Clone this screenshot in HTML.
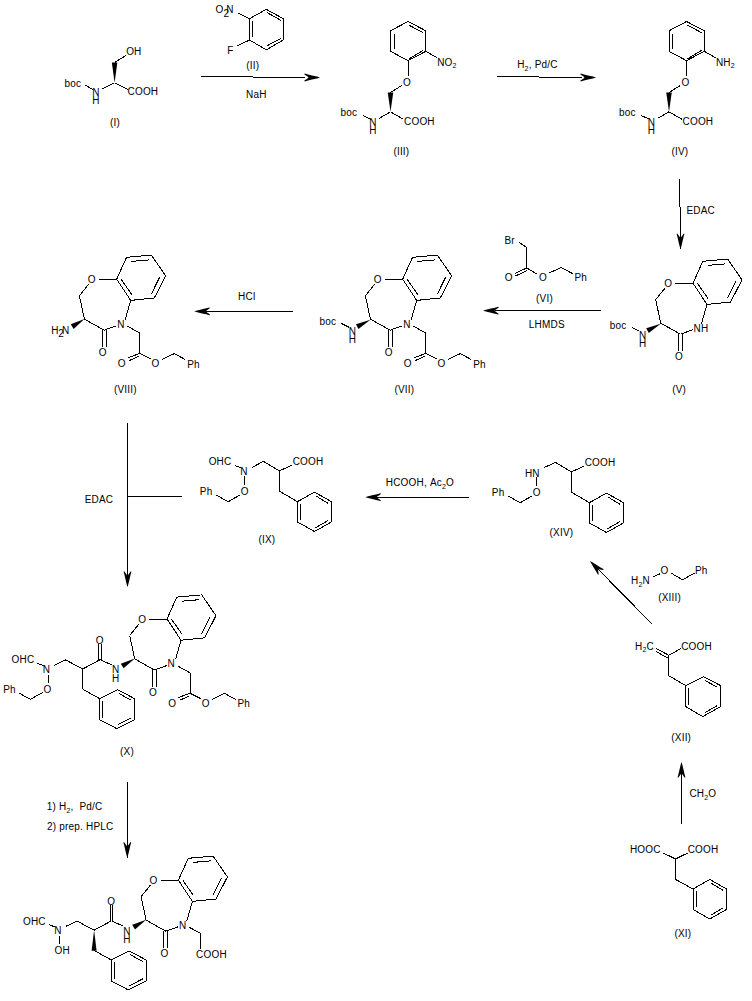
<!DOCTYPE html>
<html><head><meta charset="utf-8"><style>
html,body{margin:0;padding:0;background:#fff;width:752px;height:1001px;overflow:hidden}
svg{display:block}
line,.s{stroke:#000;stroke-width:1;fill:none;shape-rendering:crispEdges}
.f{fill:#000;stroke:none}
text{font-family:"Liberation Sans",sans-serif;font-size:10.0px;fill:#000;letter-spacing:0.2px}
</style></head><body>
<svg width="752" height="1001" viewBox="0 0 752 1001">
<text transform="translate(126.13,55.41) scale(1,1.15)"><tspan>OH</tspan></text>
<text transform="translate(64.56,86.61) scale(1,1.15)" letter-spacing="0.6"><tspan>boc</tspan></text>
<text transform="translate(92.18,95.91) scale(1,1.15)"><tspan>N</tspan></text>
<text transform="translate(92.18,103.51) scale(1,1.15)"><tspan>H</tspan></text>
<text transform="translate(127.49,94.91) scale(1,1.15)"><tspan>COOH</tspan></text>
<line x1="85.1" y1="85" x2="93" y2="89.8"/>
<line x1="101.9" y1="89" x2="114.6" y2="82.7"/>
<line x1="114.6" y1="82.7" x2="128.2" y2="89.8"/>
<polygon class="f" points="114.6,82.7 117.35,62.5 111.85,62.5"/>
<line x1="114.6" y1="62.5" x2="125.8" y2="55.5"/>
<text transform="translate(109.98,126.41) scale(1,1.15)"><tspan>(I)</tspan></text>
<text transform="translate(215.43,12.91) scale(1,1.15)"><tspan>O</tspan></text>
<text transform="translate(226.18,12.91) scale(1,1.15)"><tspan>N</tspan></text>
<text transform="translate(223.6,16.8) scale(1,1.15)" font-size="7">2</text>
<polygon class="s" points="266.3,9.3 283.1,18.6 283.1,40 266.3,49.9 249.6,40 249.6,18.6"/>
<line x1="252.4" y1="21.4" x2="252.4" y2="37.2"/>
<line x1="267.3" y1="12.7" x2="281.2" y2="20.5"/>
<line x1="267.3" y1="45.6" x2="281.2" y2="38.2"/>
<line x1="238" y1="13" x2="249.6" y2="18.6"/>
<line x1="237.5" y1="45.6" x2="249.6" y2="40"/>
<text transform="translate(227.18,54.11) scale(1,1.15)"><tspan>F</tspan></text>
<text transform="translate(246.18,69.31) scale(1,1.15)"><tspan>(II)</tspan></text>
<line x1="201.2" y1="76.5" x2="253.3" y2="76.5"/>
<line x1="253.3" y1="77.5" x2="305" y2="77.5"/>
<polygon class="f" points="320,77.5 317,78.4 312,79.6 308,80.5 304.8,81.4 304.2,80.8 308.2,77.9 308.2,77.1 304.2,74.2 304.8,73.6 308,74.5 312,75.4 317,76.6"/>
<text transform="translate(245.98,98.21) scale(1,1.15)"><tspan>NaH</tspan></text>
<polygon class="s" points="408,21.5 425.9,30.8 425.9,51.3 408,60.6 390.5,51.3 390.5,30.8"/>
<line x1="394.2" y1="33.6" x2="394.2" y2="49.4"/>
<line x1="409.1" y1="25.2" x2="423.1" y2="32.7"/>
<line x1="409.1" y1="58.8" x2="423.1" y2="50.4"/>
<line x1="425.9" y1="51.3" x2="437" y2="57.8"/>
<line x1="408" y1="60.6" x2="408" y2="76"/>
<text transform="translate(403.03,85.91) scale(1,1.15)"><tspan>O</tspan></text>
<line x1="401.7" y1="85.5" x2="390.5" y2="92.5"/>
<polygon class="f" points="390.5,111.8 393.25,92.5 387.75,92.5"/>
<text transform="translate(340.56,116.41) scale(1,1.15)" letter-spacing="0.6"><tspan>boc</tspan></text>
<line x1="362.6" y1="115.5" x2="371" y2="119.3"/>
<text transform="translate(369.18,126.21) scale(1,1.15)"><tspan>N</tspan></text>
<text transform="translate(369.18,134.21) scale(1,1.15)"><tspan>H</tspan></text>
<line x1="379.3" y1="118.3" x2="390.5" y2="111.8"/>
<line x1="390.5" y1="111.8" x2="403.5" y2="119.3"/>
<text transform="translate(403.99,124.91) scale(1,1.15)"><tspan>COOH</tspan></text>
<text transform="translate(437.18,65.71) scale(1,1.15)"><tspan>NO</tspan><tspan font-size="7" dy="2.4">2</tspan></text>
<text transform="translate(393.38,154.91) scale(1,1.15)"><tspan>(III)</tspan></text>
<line x1="497" y1="76.5" x2="539" y2="76.5"/>
<line x1="539" y1="77.5" x2="582" y2="77.5"/>
<polygon class="f" points="596,77.5 593,78.4 588,79.6 584,80.5 580.8,81.4 580.2,80.8 584.2,77.9 584.2,77.1 580.2,74.2 580.8,73.6 584,74.5 588,75.4 593,76.6"/>
<text transform="translate(517.18,68.41) scale(1,1.15)"><tspan>H</tspan><tspan font-size="7" dy="2.4">2</tspan><tspan dy="-2.4">,&#160;Pd/C</tspan></text>
<polygon class="s" points="686.5,21.5 704.4,30.8 704.4,51.3 686.5,60.6 669,51.3 669,30.8"/>
<line x1="672.7" y1="33.6" x2="672.7" y2="49.4"/>
<line x1="687.6" y1="25.2" x2="701.6" y2="32.7"/>
<line x1="687.6" y1="58.8" x2="701.6" y2="50.4"/>
<line x1="704.4" y1="51.3" x2="715.5" y2="57.8"/>
<line x1="686.5" y1="60.6" x2="686.5" y2="76"/>
<text transform="translate(681.53,85.91) scale(1,1.15)"><tspan>O</tspan></text>
<line x1="680.2" y1="85.5" x2="669" y2="92.5"/>
<polygon class="f" points="669,111.8 671.75,92.5 666.25,92.5"/>
<text transform="translate(619.06,116.41) scale(1,1.15)" letter-spacing="0.6"><tspan>boc</tspan></text>
<line x1="641.1" y1="115.5" x2="649.5" y2="119.3"/>
<text transform="translate(647.68,126.21) scale(1,1.15)"><tspan>N</tspan></text>
<text transform="translate(647.68,134.21) scale(1,1.15)"><tspan>H</tspan></text>
<line x1="657.8" y1="118.3" x2="669" y2="111.8"/>
<line x1="669" y1="111.8" x2="682" y2="119.3"/>
<text transform="translate(682.49,124.91) scale(1,1.15)"><tspan>COOH</tspan></text>
<text transform="translate(715.88,65.71) scale(1,1.15)"><tspan>NH</tspan><tspan font-size="7" dy="2.4">2</tspan></text>
<text transform="translate(671.38,155.11) scale(1,1.15)"><tspan>(IV)</tspan></text>
<line x1="679.5" y1="179.2" x2="679.5" y2="207"/>
<line x1="680.5" y1="207" x2="680.5" y2="249.3"/>
<polygon class="f" points="680.5,249.3 679.6,246.3 678.4,241.3 677.5,237.3 676.6,234.1 677.2,233.5 680.1,237.5 680.9,237.5 683.8,233.5 684.4,234.1 683.5,237.3 682.6,241.3 681.4,246.3"/>
<text transform="translate(686.48,213.51) scale(1,1.15)"><tspan>EDAC</tspan></text>
<polygon class="s" points="702.8,261.3 727.7,259.1 742,279.9 730.6,302 707,304.4 693,283.2"/>
<line x1="707.5" y1="265.4" x2="725.2" y2="263.9"/>
<line x1="735.9" y1="281.2" x2="727.7" y2="298"/>
<line x1="697.4" y1="283.3" x2="708.1" y2="298.5"/>
<text transform="translate(664.13,287.21) scale(1,1.15)"><tspan>O</tspan></text>
<line x1="675.3" y1="283.3" x2="693" y2="283.2"/>
<line x1="665.2" y1="287.9" x2="655.7" y2="299.7"/>
<line x1="655.7" y1="299.7" x2="660.7" y2="323.1"/>
<line x1="660.7" y1="323.1" x2="680.4" y2="334.2"/>
<line x1="678.5" y1="334.2" x2="678.5" y2="350.8"/>
<line x1="682.3" y1="334.2" x2="682.3" y2="350.8"/>
<text transform="translate(675.03,359.81) scale(1,1.15)"><tspan>O</tspan></text>
<line x1="680.4" y1="334.2" x2="692.7" y2="329.8"/>
<text transform="translate(693.48,331.61) scale(1,1.15)"><tspan>NH</tspan></text>
<line x1="701.5" y1="323.7" x2="707" y2="304.4"/>
<polygon class="f" points="660.7,323.7 646.23,328.16 648.77,333.04"/>
<text transform="translate(639.08,338.51) scale(1,1.15)"><tspan>N</tspan></text>
<text transform="translate(639.08,347.41) scale(1,1.15)"><tspan>H</tspan></text>
<text transform="translate(609.86,328.91) scale(1,1.15)" letter-spacing="0.6"><tspan>boc</tspan></text>
<line x1="631.7" y1="327.5" x2="639.3" y2="331.3"/>
<text transform="translate(672.18,392.71) scale(1,1.15)"><tspan>(V)</tspan></text>
<text transform="translate(504.38,244.31) scale(1,1.15)"><tspan>Br</tspan></text>
<line x1="518.8" y1="242.3" x2="526.8" y2="247.6"/>
<line x1="526.8" y1="247.6" x2="526.8" y2="268"/>
<line x1="526.8" y1="268" x2="514.7" y2="273.5"/>
<line x1="526.8" y1="270.5" x2="515.6" y2="276"/>
<text transform="translate(504.73,280.91) scale(1,1.15)"><tspan>O</tspan></text>
<line x1="526.8" y1="268" x2="537" y2="274"/>
<text transform="translate(538.93,280.91) scale(1,1.15)"><tspan>O</tspan></text>
<line x1="549.1" y1="273" x2="561.2" y2="267.5"/>
<line x1="561.2" y1="267.5" x2="573.3" y2="274"/>
<text transform="translate(574.38,280.91) scale(1,1.15)"><tspan>Ph</tspan></text>
<text transform="translate(536.08,301.91) scale(1,1.15)"><tspan>(VI)</tspan></text>
<line x1="601.3" y1="310.7" x2="495" y2="310.7"/>
<polygon class="f" points="483,310.7 486,309.8 491,308.6 495,307.7 498.2,306.8 498.8,307.4 494.8,310.3 494.8,311.1 498.8,314 498.2,314.6 495,313.7 491,312.8 486,311.6"/>
<text transform="translate(528.78,328.41) scale(1,1.15)"><tspan>LHMDS</tspan></text>
<polygon class="s" points="412.5,257.3 437.4,255.1 451.7,275.9 440.3,298 416.7,300.4 402.7,279.2"/>
<line x1="417.2" y1="261.4" x2="434.9" y2="259.9"/>
<line x1="445.6" y1="277.2" x2="437.4" y2="294"/>
<line x1="407.1" y1="279.3" x2="417.8" y2="294.5"/>
<text transform="translate(373.83,283.21) scale(1,1.15)"><tspan>O</tspan></text>
<line x1="385" y1="279.3" x2="402.7" y2="279.2"/>
<line x1="374.9" y1="283.9" x2="365.4" y2="295.7"/>
<line x1="365.4" y1="295.7" x2="370.4" y2="319.1"/>
<line x1="370.4" y1="319.1" x2="390.1" y2="330.2"/>
<line x1="388.2" y1="330.2" x2="388.2" y2="346.8"/>
<line x1="392" y1="330.2" x2="392" y2="346.8"/>
<text transform="translate(384.73,355.81) scale(1,1.15)"><tspan>O</tspan></text>
<line x1="390.1" y1="330.2" x2="402.4" y2="325.8"/>
<text transform="translate(403.18,327.61) scale(1,1.15)"><tspan>N</tspan></text>
<line x1="411.2" y1="319.7" x2="416.7" y2="300.4"/>
<line x1="413.1" y1="326" x2="425.7" y2="333"/>
<line x1="425.7" y1="333" x2="425.7" y2="353.5"/>
<line x1="425.7" y1="353.5" x2="414" y2="357.7"/>
<line x1="424.8" y1="356.3" x2="415.4" y2="360.5"/>
<text transform="translate(403.83,367.01) scale(1,1.15)"><tspan>O</tspan></text>
<line x1="425.7" y1="353.5" x2="436.9" y2="359.1"/>
<text transform="translate(437.53,367.01) scale(1,1.15)"><tspan>O</tspan></text>
<line x1="448.1" y1="359.6" x2="460.2" y2="353.6"/>
<line x1="460.2" y1="353.6" x2="471.4" y2="359.6"/>
<text transform="translate(473.18,367.51) scale(1,1.15)"><tspan>Ph</tspan></text>
<polygon class="f" points="370.4,319.7 355.93,324.16 358.47,329.04"/>
<text transform="translate(348.78,334.51) scale(1,1.15)"><tspan>N</tspan></text>
<text transform="translate(348.78,343.41) scale(1,1.15)"><tspan>H</tspan></text>
<text transform="translate(319.56,324.91) scale(1,1.15)" letter-spacing="0.6"><tspan>boc</tspan></text>
<line x1="341.4" y1="323.5" x2="349" y2="327.3"/>
<text transform="translate(394.48,392.91) scale(1,1.15)"><tspan>(VII)</tspan></text>
<line x1="292.9" y1="311.3" x2="205" y2="311.3"/>
<polygon class="f" points="194.2,311.3 197.2,310.4 202.2,309.2 206.2,308.3 209.4,307.4 210,308 206,310.9 206,311.7 210,314.6 209.4,315.2 206.2,314.3 202.2,313.4 197.2,312.2"/>
<text transform="translate(238.08,300.01) scale(1,1.15)"><tspan>HCl</tspan></text>
<polygon class="s" points="126.5,257.3 151.4,255.1 165.7,275.9 154.3,298 130.7,300.4 116.7,279.2"/>
<line x1="131.2" y1="261.4" x2="148.9" y2="259.9"/>
<line x1="159.6" y1="277.2" x2="151.4" y2="294"/>
<line x1="121.1" y1="279.3" x2="131.8" y2="294.5"/>
<text transform="translate(87.83,283.21) scale(1,1.15)"><tspan>O</tspan></text>
<line x1="99" y1="279.3" x2="116.7" y2="279.2"/>
<line x1="88.9" y1="283.9" x2="79.4" y2="295.7"/>
<line x1="79.4" y1="295.7" x2="84.4" y2="319.1"/>
<line x1="84.4" y1="319.1" x2="104.1" y2="330.2"/>
<line x1="102.2" y1="330.2" x2="102.2" y2="346.8"/>
<line x1="106" y1="330.2" x2="106" y2="346.8"/>
<text transform="translate(98.73,355.81) scale(1,1.15)"><tspan>O</tspan></text>
<line x1="104.1" y1="330.2" x2="116.4" y2="325.8"/>
<text transform="translate(117.18,327.61) scale(1,1.15)"><tspan>N</tspan></text>
<line x1="125.2" y1="319.7" x2="130.7" y2="300.4"/>
<line x1="127.1" y1="326" x2="139.7" y2="333"/>
<line x1="139.7" y1="333" x2="139.7" y2="353.5"/>
<line x1="139.7" y1="353.5" x2="128" y2="357.7"/>
<line x1="138.8" y1="356.3" x2="129.4" y2="360.5"/>
<text transform="translate(117.83,367.01) scale(1,1.15)"><tspan>O</tspan></text>
<line x1="139.7" y1="353.5" x2="150.9" y2="359.1"/>
<text transform="translate(151.53,367.01) scale(1,1.15)"><tspan>O</tspan></text>
<line x1="162.1" y1="359.6" x2="174.2" y2="353.6"/>
<line x1="174.2" y1="353.6" x2="185.4" y2="359.6"/>
<text transform="translate(187.18,367.51) scale(1,1.15)"><tspan>Ph</tspan></text>
<text transform="translate(51.18,333.91) scale(1,1.15)"><tspan>H</tspan></text>
<text transform="translate(58.3,336.7) scale(1,1.15)" font-size="7">2</text>
<text transform="translate(61.88,333.91) scale(1,1.15)"><tspan>N</tspan></text>
<polygon class="f" points="84.4,319.1 70.76,324.26 73.64,328.94"/>
<text transform="translate(113.88,392.51) scale(1,1.15)"><tspan>(VIII)</tspan></text>
<line x1="127.5" y1="423" x2="127.5" y2="586"/>
<polygon class="f" points="127.5,587 126.6,584 125.4,579 124.5,575 123.6,571.8 124.2,571.2 127.1,575.2 127.9,575.2 130.8,571.2 131.4,571.8 130.5,575 129.6,579 128.4,584"/>
<line x1="127.5" y1="496.5" x2="182" y2="496.5"/>
<text transform="translate(84.68,502.61) scale(1,1.15)"><tspan>EDAC</tspan></text>
<line x1="263.4" y1="461.3" x2="279.4" y2="470.9"/>
<line x1="279.4" y1="470.9" x2="292.1" y2="465.1"/>
<text transform="translate(292.69,465.31) scale(1,1.15)"><tspan>COOH</tspan></text>
<line x1="279.4" y1="470.9" x2="279.4" y2="491.1"/>
<line x1="279.4" y1="491.1" x2="297.4" y2="501.7"/>
<polygon class="s" points="297.4,501.7 314.5,492.1 331.5,501.7 331.5,521.9 314.5,531.5 297.4,521.9"/>
<line x1="300.6" y1="503.8" x2="300.6" y2="519.8"/>
<line x1="315.5" y1="495.7" x2="328.3" y2="503.4"/>
<line x1="315.5" y1="527.7" x2="328.3" y2="520.4"/>
<line x1="244.9" y1="476.2" x2="244.9" y2="484.7"/>
<text transform="translate(240.63,494.71) scale(1,1.15)"><tspan>O</tspan></text>
<line x1="240" y1="494.9" x2="228.3" y2="501.7"/>
<line x1="228.3" y1="501.7" x2="216.6" y2="495.3"/>
<text transform="translate(199.78,495.11) scale(1,1.15)"><tspan>Ph</tspan></text>
<text transform="translate(208.63,465.31) scale(1,1.15)" letter-spacing="-0.5"><tspan>OHC</tspan></text>
<line x1="234.7" y1="465.5" x2="241.1" y2="467.7"/>
<text transform="translate(240.28,474.51) scale(1,1.15)"><tspan>N</tspan></text>
<line x1="251.7" y1="467.7" x2="263.4" y2="461.3"/>
<text transform="translate(258.48,542.61) scale(1,1.15)"><tspan>(IX)</tspan></text>
<line x1="469.3" y1="497.2" x2="375" y2="497.2"/>
<polygon class="f" points="365.2,497.2 368.2,496.3 373.2,495.1 377.2,494.2 380.4,493.3 381,493.9 377,496.8 377,497.6 381,500.5 380.4,501.1 377.2,500.2 373.2,499.3 368.2,498.1"/>
<text transform="translate(385.78,486.11) scale(1,1.15)"><tspan>HCOOH,&#160;Ac</tspan><tspan font-size="7" dy="2.4">2</tspan><tspan dy="-2.4">O</tspan></text>
<line x1="555.4" y1="462.3" x2="571.4" y2="471.9"/>
<line x1="571.4" y1="471.9" x2="584.1" y2="466.1"/>
<text transform="translate(584.69,466.31) scale(1,1.15)"><tspan>COOH</tspan></text>
<line x1="571.4" y1="471.9" x2="571.4" y2="492.1"/>
<line x1="571.4" y1="492.1" x2="589.4" y2="502.7"/>
<polygon class="s" points="589.4,502.7 606.5,493.1 623.5,502.7 623.5,522.9 606.5,532.5 589.4,522.9"/>
<line x1="592.6" y1="504.8" x2="592.6" y2="520.8"/>
<line x1="607.5" y1="496.7" x2="620.3" y2="504.4"/>
<line x1="607.5" y1="528.7" x2="620.3" y2="521.4"/>
<line x1="536.9" y1="477.2" x2="536.9" y2="485.7"/>
<text transform="translate(532.63,495.71) scale(1,1.15)"><tspan>O</tspan></text>
<line x1="532" y1="495.9" x2="520.3" y2="502.7"/>
<line x1="520.3" y1="502.7" x2="508.6" y2="496.3"/>
<text transform="translate(491.78,496.11) scale(1,1.15)"><tspan>Ph</tspan></text>
<text transform="translate(524.88,476.61) scale(1,1.15)"><tspan>HN</tspan></text>
<line x1="543.8" y1="467.7" x2="555.5" y2="462.3"/>
<text transform="translate(549.58,536.21) scale(1,1.15)"><tspan>(XIV)</tspan></text>
<line x1="651.8" y1="623.8" x2="592" y2="563"/>
<polygon class="f" points="590,561 592.75,562.51 597.11,565.23 600.56,567.45 603.44,569.1 603.43,569.95 598.56,569.13 597.99,569.69 598.73,574.58 597.88,574.57 596.28,571.66 594.11,568.18 591.46,563.77"/>
<text transform="translate(631.08,583.81) scale(1,1.15)"><tspan>H</tspan><tspan font-size="7" dy="2.4">2</tspan><tspan dy="-2.4">N</tspan></text>
<line x1="652.8" y1="576.9" x2="659.8" y2="573.9"/>
<text transform="translate(660.43,574.21) scale(1,1.15)"><tspan>O</tspan></text>
<line x1="670.8" y1="572.9" x2="682.7" y2="579.9"/>
<line x1="682.7" y1="579.9" x2="694.7" y2="572.9"/>
<text transform="translate(694.88,574.21) scale(1,1.15)"><tspan>Ph</tspan></text>
<text transform="translate(658.18,600.81) scale(1,1.15)"><tspan>(XIII)</tspan></text>
<text transform="translate(635.08,649.71) scale(1,1.15)"><tspan>H</tspan><tspan font-size="7" dy="2.4">2</tspan><tspan dy="-2.4">C</tspan></text>
<line x1="655.7" y1="648.2" x2="668.8" y2="655.3"/>
<line x1="656.3" y1="651.6" x2="667.6" y2="658"/>
<line x1="668.8" y1="655.3" x2="680.7" y2="648.7"/>
<text transform="translate(681.19,649.71) scale(1,1.15)"><tspan>COOH</tspan></text>
<line x1="668.8" y1="655.3" x2="668.8" y2="675.7"/>
<line x1="668.8" y1="675.7" x2="685.7" y2="685.6"/>
<polygon class="s" points="685.7,685.6 703.7,676.7 720.6,685.6 720.6,706.6 702.7,716.6 685.7,706.6"/>
<line x1="688.9" y1="687.7" x2="688.9" y2="704.5"/>
<line x1="704.7" y1="680.3" x2="717.4" y2="687.3"/>
<line x1="704.7" y1="712.8" x2="717.4" y2="705.5"/>
<text transform="translate(671.28,741.11) scale(1,1.15)"><tspan>(XII)</tspan></text>
<line x1="681.5" y1="824.3" x2="681.5" y2="770"/>
<polygon class="f" points="681.5,762 682.4,765 683.6,770 684.5,774 685.4,777.2 684.8,777.8 681.9,773.8 681.1,773.8 678.2,777.8 677.6,777.2 678.5,774 679.4,770 680.6,765"/>
<text transform="translate(689.39,797.41) scale(1,1.15)"><tspan>CH</tspan><tspan font-size="7" dy="2.4">2</tspan><tspan dy="-2.4">O</tspan></text>
<text transform="translate(629.88,852.61) scale(1,1.15)"><tspan>HOOC</tspan></text>
<line x1="663.5" y1="853.1" x2="675.5" y2="859"/>
<line x1="675.5" y1="859" x2="687.5" y2="853.1"/>
<text transform="translate(687.69,852.61) scale(1,1.15)"><tspan>COOH</tspan></text>
<line x1="675.5" y1="859" x2="675.5" y2="879.4"/>
<line x1="675.5" y1="879.4" x2="693" y2="889"/>
<polygon class="s" points="693,889 709.8,879.4 726.6,889 726.6,909.4 709.8,919 693,909.4"/>
<line x1="696.2" y1="891" x2="696.2" y2="907.3"/>
<line x1="710.8" y1="883" x2="723.4" y2="890.6"/>
<line x1="710.8" y1="915.2" x2="723.4" y2="907.6"/>
<text transform="translate(674.38,936.51) scale(1,1.15)"><tspan>(XI)</tspan></text>
<text transform="translate(11.53,663.31) scale(1,1.15)" letter-spacing="-0.5"><tspan>OHC</tspan></text>
<line x1="37.3" y1="663.3" x2="43.6" y2="665.8"/>
<text transform="translate(42.78,673.11) scale(1,1.15)"><tspan>N</tspan></text>
<line x1="54.3" y1="665.2" x2="65.7" y2="659.9"/>
<line x1="65.7" y1="659.9" x2="82.7" y2="669"/>
<line x1="82.7" y1="669" x2="100" y2="659.7"/>
<line x1="101.3" y1="659.7" x2="101.3" y2="643.5"/>
<line x1="98.7" y1="659.7" x2="98.7" y2="643.5"/>
<text transform="translate(95.83,643.61) scale(1,1.15)"><tspan>O</tspan></text>
<line x1="100" y1="659.7" x2="112.2" y2="665"/>
<text transform="translate(111.88,673.31) scale(1,1.15)"><tspan>N</tspan></text>
<text transform="translate(111.88,682.11) scale(1,1.15)"><tspan>H</tspan></text>
<polygon class="f" points="134.8,658.6 120.81,663.63 123.59,668.37"/>
<line x1="82.7" y1="669" x2="82.7" y2="689.2"/>
<line x1="82.7" y1="689.2" x2="99.7" y2="698.7"/>
<polygon class="s" points="99.7,698.7 117.7,689.7 134.6,698.7 134.6,719.7 116.7,728.6 99.7,719.7"/>
<line x1="102.9" y1="700.8" x2="102.9" y2="717.6"/>
<line x1="118.7" y1="693.3" x2="131.4" y2="700.4"/>
<line x1="117.7" y1="724.8" x2="131.4" y2="717.6"/>
<line x1="48.3" y1="674.7" x2="48.3" y2="682.9"/>
<text transform="translate(43.53,693.11) scale(1,1.15)"><tspan>O</tspan></text>
<line x1="43" y1="692.4" x2="30.3" y2="699.3"/>
<line x1="30.3" y1="699.3" x2="19" y2="693"/>
<text transform="translate(3.18,693.31) scale(1,1.15)"><tspan>Ph</tspan></text>
<polygon class="s" points="176.8,597.1 201.7,594.9 216,615.7 204.6,637.8 181,640.2 167,619"/>
<line x1="181.5" y1="601.2" x2="199.2" y2="599.7"/>
<line x1="209.9" y1="617" x2="201.7" y2="633.8"/>
<line x1="171.4" y1="619.1" x2="182.1" y2="634.3"/>
<text transform="translate(138.13,623.01) scale(1,1.15)"><tspan>O</tspan></text>
<line x1="149.3" y1="619.1" x2="167" y2="619"/>
<line x1="139.2" y1="623.7" x2="129.7" y2="635.5"/>
<line x1="129.7" y1="635.5" x2="134.7" y2="658.9"/>
<line x1="134.7" y1="658.9" x2="154.4" y2="670"/>
<line x1="152.5" y1="670" x2="152.5" y2="686.6"/>
<line x1="156.3" y1="670" x2="156.3" y2="686.6"/>
<text transform="translate(149.03,695.61) scale(1,1.15)"><tspan>O</tspan></text>
<line x1="154.4" y1="670" x2="166.7" y2="665.6"/>
<text transform="translate(167.48,667.41) scale(1,1.15)"><tspan>N</tspan></text>
<line x1="175.5" y1="659.5" x2="181" y2="640.2"/>
<line x1="177.4" y1="665.8" x2="190" y2="672.8"/>
<line x1="190" y1="672.8" x2="190" y2="693.3"/>
<line x1="190" y1="693.3" x2="178.3" y2="697.5"/>
<line x1="189.1" y1="696.1" x2="179.7" y2="700.3"/>
<text transform="translate(168.13,706.81) scale(1,1.15)"><tspan>O</tspan></text>
<line x1="190" y1="693.3" x2="201.2" y2="698.9"/>
<text transform="translate(201.83,706.81) scale(1,1.15)"><tspan>O</tspan></text>
<line x1="212.4" y1="699.4" x2="224.5" y2="693.4"/>
<line x1="224.5" y1="693.4" x2="235.7" y2="699.4"/>
<text transform="translate(237.48,707.31) scale(1,1.15)"><tspan>Ph</tspan></text>
<text transform="translate(120.08,754.51) scale(1,1.15)"><tspan>(X)</tspan></text>
<line x1="127.3" y1="782" x2="127.3" y2="857.8"/>
<polygon class="f" points="127.3,857.8 126.4,854.8 125.2,849.8 124.3,845.8 123.4,842.6 124,842 126.9,846 127.7,846 130.6,842 131.2,842.6 130.3,845.8 129.4,849.8 128.2,854.8"/>
<text transform="translate(46.74,809.81) scale(1,1.15)"><tspan>1)&#160;H</tspan><tspan font-size="7" dy="2.4">2</tspan><tspan dy="-2.4">,&#160;&#160;Pd/C</tspan></text>
<text transform="translate(47,830.21) scale(1,1.15)"><tspan>2)&#160;prep.&#160;HPLC</tspan></text>
<text transform="translate(22.93,924.51) scale(1,1.15)" letter-spacing="-0.5"><tspan>OHC</tspan></text>
<line x1="48.7" y1="924.5" x2="55" y2="927"/>
<text transform="translate(54.18,934.31) scale(1,1.15)"><tspan>N</tspan></text>
<line x1="65.7" y1="926.4" x2="77.1" y2="921.1"/>
<line x1="77.1" y1="921.1" x2="94.1" y2="930.2"/>
<line x1="94.1" y1="930.2" x2="111.4" y2="920.9"/>
<line x1="112.7" y1="920.9" x2="112.7" y2="904.7"/>
<line x1="110.1" y1="920.9" x2="110.1" y2="904.7"/>
<text transform="translate(107.23,904.81) scale(1,1.15)"><tspan>O</tspan></text>
<line x1="111.4" y1="920.9" x2="123.6" y2="926.2"/>
<text transform="translate(123.28,934.51) scale(1,1.15)"><tspan>N</tspan></text>
<text transform="translate(123.28,943.31) scale(1,1.15)"><tspan>H</tspan></text>
<polygon class="f" points="146.2,919.8 132.21,924.83 134.99,929.57"/>
<polygon class="f" points="94.1,930.2 91.6,950.7 96.6,950.7"/>
<line x1="94.1" y1="950.4" x2="111.1" y2="959.9"/>
<polygon class="s" points="111.1,959.9 129.1,950.9 146,959.9 146,980.9 128.1,989.8 111.1,980.9"/>
<line x1="114.3" y1="962" x2="114.3" y2="978.8"/>
<line x1="130.1" y1="954.5" x2="142.8" y2="961.6"/>
<line x1="129.1" y1="986" x2="142.8" y2="978.8"/>
<line x1="59.7" y1="935.9" x2="59.7" y2="944.1"/>
<text transform="translate(54.43,953.71) scale(1,1.15)"><tspan>OH</tspan></text>
<polygon class="s" points="188.2,858.3 213.1,856.1 227.4,876.9 216,899 192.4,901.4 178.4,880.2"/>
<line x1="192.9" y1="862.4" x2="210.6" y2="860.9"/>
<line x1="221.3" y1="878.2" x2="213.1" y2="895"/>
<line x1="182.8" y1="880.3" x2="193.5" y2="895.5"/>
<text transform="translate(149.53,884.21) scale(1,1.15)"><tspan>O</tspan></text>
<line x1="160.7" y1="880.3" x2="178.4" y2="880.2"/>
<line x1="150.6" y1="884.9" x2="141.1" y2="896.7"/>
<line x1="141.1" y1="896.7" x2="146.1" y2="920.1"/>
<line x1="146.1" y1="920.1" x2="165.8" y2="931.2"/>
<line x1="163.9" y1="931.2" x2="163.9" y2="947.8"/>
<line x1="167.7" y1="931.2" x2="167.7" y2="947.8"/>
<text transform="translate(160.43,956.81) scale(1,1.15)"><tspan>O</tspan></text>
<line x1="165.8" y1="931.2" x2="178.1" y2="926.8"/>
<text transform="translate(178.88,928.61) scale(1,1.15)"><tspan>N</tspan></text>
<line x1="186.9" y1="920.7" x2="192.4" y2="901.4"/>
<line x1="189.1" y1="927.2" x2="200.9" y2="933.6"/>
<line x1="200.9" y1="933.6" x2="200.9" y2="948.5"/>
<text transform="translate(196.09,957.51) scale(1,1.15)"><tspan>COOH</tspan></text>
</svg></body></html>
